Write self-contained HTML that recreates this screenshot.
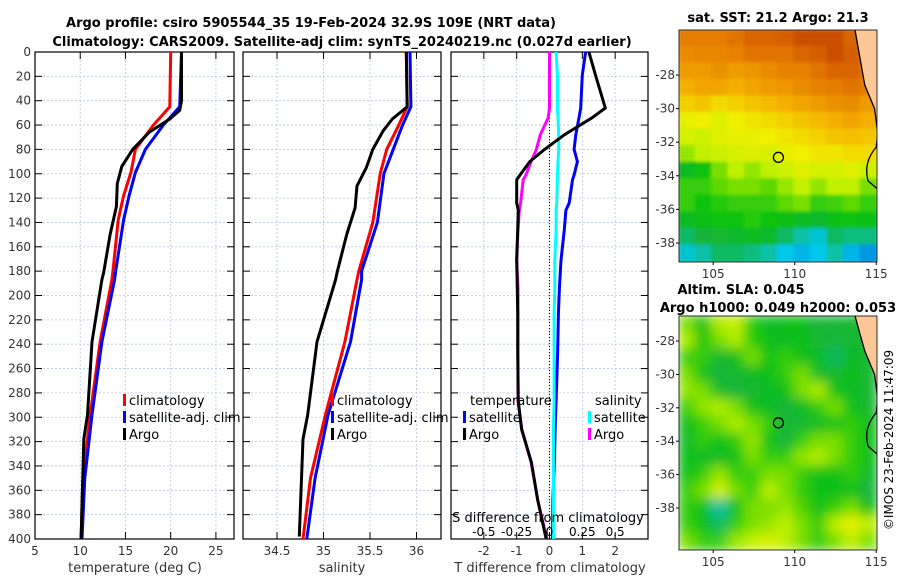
<!DOCTYPE html>
<html><head><meta charset="utf-8">
<style>
body{margin:0;background:#fff;}
svg{display:block;font-family:"DejaVu Sans","Liberation Sans",sans-serif;}
</style></head>
<body>
<svg id="fig" width="900" height="580" viewBox="0 0 900 580" xmlns="http://www.w3.org/2000/svg">
<text x="311" y="27" text-anchor="middle" font-size="13" font-weight="bold">Argo profile: csiro 5905544_35 19-Feb-2024 32.9S 109E (NRT data)</text>
<text x="342" y="46" text-anchor="middle" font-size="13" font-weight="bold">Climatology: CARS2009. Satellite-adj clim: synTS_20240219.nc (0.027d earlier)</text>
<g id="p1"></g>
<g id="p2"></g>
<g id="p3"></g>
<g id="m1"></g>
<g id="m2"></g>
<text transform="translate(893,440) rotate(-90)" text-anchor="middle" font-size="12">©IMOS 23-Feb-2024 11:47:09</text>
</svg>
<script>
// ---- profile data ----
const tDepth = [0,40,48,55,66,80,94,108,127,150,181,187,238,298,318,400];
const tArgo  = [21.2,21.2,21.0,19.9,17.6,15.8,14.6,14.1,14.0,13.3,12.6,12.4,11.3,10.8,10.4,10.1];
const cDepth = [0,45,60,80,99,118,138,181,187,238,298,350,400];
const tClim  = [20.0,19.9,18.1,16.1,15.6,14.8,14.2,13.6,13.5,12.2,11.1,10.3,10.1];
const tSat   = [21.2,21.0,19.2,17.2,16.1,15.4,14.8,13.9,13.8,12.4,11.3,10.5,10.2];
const sDepth = [0,45,55,65,80,95,110,128,150,180,187,238,298,318,398];
const sArgo  = [35.89,35.90,35.74,35.64,35.53,35.46,35.36,35.34,35.25,35.15,35.13,34.93,34.83,34.78,34.74];
const scDepth= [0,45,60,80,100,140,180,187,238,298,350,400];
const sClim  = [35.89,35.90,35.81,35.68,35.61,35.53,35.38,35.36,35.23,35.02,34.86,34.78];
const sSat   = [35.93,35.94,35.85,35.75,35.65,35.58,35.41,35.41,35.29,35.05,34.91,34.82];
const dDepth = [0,19,46,54,68,80,90,101,105,124,130,146,171,194,215,245,287,310,337,368,400];
const dTArgo = [1.2,1.4,1.7,1.3,0.45,-0.15,-0.6,-0.9,-1.0,-1.0,-0.95,-0.97,-1.0,-0.98,-0.97,-0.97,-0.95,-0.85,-0.55,-0.36,-0.1];
const dTSat  = [1.1,1.0,0.95,0.9,0.8,0.75,0.85,0.75,0.7,0.6,0.5,0.45,0.35,0.3,0.27,0.25,0.2,0.17,0.15,0.1,0.09];
const dSArgo = [0,0,0,-0.01,-0.07,-0.1,-0.14,-0.18,-0.2,-0.22,-0.23,-0.24,-0.25,-0.24,-0.24,-0.24,-0.24,-0.21,-0.14,-0.09,-0.02];
const dSSat  = [0.05,0.06,0.06,0.065,0.07,0.07,0.065,0.06,0.06,0.055,0.05,0.05,0.04,0.04,0.035,0.035,0.035,0.03,0.03,0.03,0.03];
const depthTicks = [0,20,40,60,80,100,120,140,160,180,200,220,240,260,280,300,320,340,360,380,400];
const tTicks = [5,10,15,20,25];
const sTicks = [34.5,35,35.5,36];
const dTTicks = [-2,-1,0,1,2];
const dSTicks = [-0.5,-0.25,0,0.25,0.5];
const dSLabels = ['-0.5','-0.25','0','0.25','0.5'];
// ---- map data (0..1 colour index) ----
const sstGrid = [
[.88,.88,.88,.9,.92,.92,.93,.95,.95,.95,.92,.9],
[.85,.86,.86,.87,.9,.9,.9,.92,.93,.95,.93,.9],
[.82,.82,.84,.82,.83,.85,.87,.87,.9,.92,.92,.9],
[.78,.8,.8,.78,.8,.82,.83,.85,.87,.88,.9,.88],
[.72,.74,.7,.72,.74,.76,.78,.8,.82,.84,.85,.82],
[.64,.66,.62,.66,.68,.7,.72,.74,.76,.78,.8,.78],
[.6,.58,.62,.64,.64,.66,.68,.7,.72,.74,.75,.74],
[.52,.56,.58,.6,.62,.6,.64,.66,.68,.68,.7,.7],
[.38,.42,.5,.55,.52,.55,.58,.62,.6,.6,.62,.58],
[.45,.45,.48,.5,.5,.48,.52,.56,.52,.55,.55,.5],
[.45,.42,.44,.45,.45,.45,.48,.5,.45,.46,.48,.45],
[.38,.4,.42,.42,.44,.42,.4,.38,.36,.4,.42,.4],
[.3,.33,.35,.36,.38,.36,.3,.25,.22,.3,.28,.28],
[.22,.25,.3,.3,.28,.25,.2,.18,.2,.25,.18,.15]];
const slaGrid = [
[.5,.4,.54,.56,.44,.37,.4,.4,.33,.35,.35,.35],
[.54,.42,.5,.54,.44,.4,.37,.4,.35,.33,.35,.35],
[.45,.45,.35,.4,.5,.4,.45,.4,.37,.3,.37,.35],
[.5,.4,.33,.35,.37,.4,.45,.5,.37,.35,.4,.35],
[.52,.5,.37,.33,.35,.37,.4,.5,.54,.4,.37,.35],
[.45,.52,.54,.5,.4,.37,.33,.37,.45,.5,.4,.35],
[.4,.45,.5,.54,.5,.45,.35,.35,.37,.4,.45,.4],
[.37,.45,.4,.45,.52,.4,.33,.45,.5,.5,.45,.4],
[.4,.37,.37,.4,.5,.45,.45,.52,.54,.5,.45,.4],
[.4,.45,.52,.45,.45,.5,.5,.45,.4,.4,.45,.37],
[.45,.5,.6,.5,.45,.55,.5,.45,.4,.4,.4,.33],
[.45,.4,.25,.4,.5,.5,.52,.47,.4,.45,.5,.4],
[.45,.4,.3,.45,.5,.52,.55,.5,.45,.55,.65,.55],
[.5,.45,.45,.52,.56,.6,.55,.5,.45,.5,.55,.5]];
const lonTicks=[105,110,115];
const latTicks=[-28,-30,-32,-34,-36,-38];
const argoLon=109, argoLat=-32.9;

const NS='http://www.w3.org/2000/svg';
function mk(parent,tag,attrs,text){const e=document.createElementNS(NS,tag);for(const k in attrs)e.setAttribute(k,attrs[k]);if(text!==undefined)e.textContent=text;parent.appendChild(e);return e;}
const Y0=52,Y1=539;
const yD=d=>Y0+(Y1-Y0)*d/400;
function panel(g,x0,x1,vmin,vmax,ticks,labels,showY){
  const xs=v=>x0+(x1-x0)*(v-vmin)/(vmax-vmin);
  ticks.forEach(t=>{const l=mk(g,'line',{x1:xs(t),x2:xs(t),y1:Y0,y2:Y1,stroke:'#b8c4e8','stroke-width':0.8,'stroke-dasharray':'2,2'});
    });
  depthTicks.forEach(d=>{const l=mk(g,'line',{x1:x0,x2:x1,y1:yD(d),y2:yD(d),stroke:'#b8c4e8','stroke-width':0.8,'stroke-dasharray':'2,2'});
    
    const a=mk(g,'line',{x1:x0,x2:x0+7,y1:yD(d),y2:yD(d),stroke:'#000'});
    const b=mk(g,'line',{x1:x1-7,x2:x1,y1:yD(d),y2:yD(d),stroke:'#000'});
    if(showY){const t=mk(g,'text',{x:x0-4,y:yD(d)+4,'text-anchor':'end','font-size':12,fill:'#333'},String(d));}
  });
  ticks.forEach((t,i)=>{const a=mk(g,'line',{x1:xs(t),x2:xs(t),y1:Y0,y2:Y0+7,stroke:'#000'});
    const b=mk(g,'line',{x1:xs(t),x2:xs(t),y1:Y1-7,y2:Y1,stroke:'#000'});
    if(labels){const tx=mk(g,'text',{x:xs(t),y:555,'text-anchor':'middle','font-size':12,fill:'#333'},labels[i]);}
  });
  const r=mk(g,'rect',{x:x0,y:Y0,width:x1-x0,height:Y1-Y0,fill:'none',stroke:'#000','stroke-width':1.2});
  
  return xs;
}
function line(g,xs,vals,depths,color,name){
  const p=mk(g,'polyline',{points:vals.map((v,i)=>xs(v).toFixed(1)+','+yD(depths[i]).toFixed(1)).join(' '),fill:'none',stroke:color,'stroke-width':3,'stroke-linejoin':'round'});
  
}
function legend(g,x,y,items){
  items.forEach((it,i)=>{const b=mk(g,'rect',{x:x,y:y+i*17-7,width:3,height:12,fill:it[1]});
    const t=mk(g,'text',{x:x+6,y:y+i*17+4,'font-size':13},it[0]);});
}
// panel 1
const g1=document.getElementById('p1');
const x1s=panel(g1,35,234,5,27,tTicks,tTicks.map(String),true);
line(g1,x1s,tClim,cDepth,'#f00','temp-climatology-line');
line(g1,x1s,tSat,cDepth,'#00f','temp-satellite-line');
line(g1,x1s,tArgo,tDepth,'#000','temp-argo-line');
legend(g1,123,401,[['climatology','#f00'],['satellite-adj. clim','#00f'],['Argo','#000']]);
const xl1=mk(g1,'text',{x:135,y:572,'text-anchor':'middle','font-size':13,fill:'#333'},'temperature (deg C)');
// panel 2
const g2=document.getElementById('p2');
const x2s=panel(g2,243,441,34.5-(277-243)/93,34.5+(441-277)/93,sTicks,sTicks.map(String),false);
line(g2,x2s,sClim,scDepth,'#f00','sal-climatology-line');
line(g2,x2s,sSat,scDepth,'#00f','sal-satellite-line');
line(g2,x2s,sArgo,sDepth,'#000','sal-argo-line');
legend(g2,331,401,[['climatology','#f00'],['satellite-adj. clim','#00f'],['Argo','#000']]);
const xl2=mk(g2,'text',{x:342,y:572,'text-anchor':'middle','font-size':13,fill:'#333'},'salinity');
// panel 3
const g3=document.getElementById('p3');
const x3s=panel(g3,451,648,-3,3,dTTicks,dTTicks.map(String),false);
const x3S=v=>x3s(v*4);
const zl=mk(g3,'line',{x1:x3s(0),x2:x3s(0),y1:Y0,y2:Y1,stroke:'#000','stroke-dasharray':'1,2'});
line(g3,x3s,dTSat,dDepth,'#00f','tdiff-satellite-line');
line(g3,x3S,dSSat,dDepth,'#0ff','sdiff-satellite-line');
line(g3,x3S,dSArgo,dDepth,'#f0f','sdiff-argo-line');
line(g3,x3s,dTArgo,dDepth,'#000','tdiff-argo-line');
const lt=mk(g3,'text',{x:470,y:405,'font-size':13},'temperature');
const ls=mk(g3,'text',{x:595,y:405,'font-size':13},'salinity');
legend(g3,463,418,[['satellite','#00f'],['Argo','#000']]);
legend(g3,588,418,[['satellite','#0ff'],['Argo','#f0f']]);
const st=mk(g3,'text',{x:548,y:522,'text-anchor':'middle','font-size':13},'S difference from climatology');
dSTicks.forEach((t,i)=>{const tx=mk(g3,'text',{x:x3S(t),y:536,'text-anchor':'middle','font-size':12},dSLabels[i]);});
const xl3=mk(g3,'text',{x:550,y:572,'text-anchor':'middle','font-size':13,fill:'#333'},'T difference from climatology');
// maps
function cmap(v){
  const stops=[[0,[0,0,190]],[0.2,[0,200,235]],[0.33,[20,180,60]],[0.42,[10,195,10]],[0.55,[190,240,0]],[0.66,[240,240,0]],[0.78,[245,175,0]],[0.9,[225,115,0]],[1,[180,45,0]]];
  for(let i=1;i<stops.length;i++){if(v<=stops[i][0]){const a=stops[i-1],b=stops[i],f=(v-a[0])/(b[0]-a[0]);return 'rgb('+a[1].map((c,k)=>Math.round(c+(b[1][k]-c)*f)).join(',')+')';}}
  return 'rgb(180,45,0)';
}
function map(g,id,y0,y1,grid,blur,titles){
  const X0=679,X1=877,lonMin=102.9,lonMax=115.05;
  const lx=lon=>X0+(X1-X0)*(lon-lonMin)/(lonMax-lonMin);
  const latA=-28,latB=-38,yA=y0+(y0===30?45:25),yB=y0+(y0===30?213:192);
  const ly=lat=>yA+(yB-yA)*(lat-latA)/(latB-latA);
  const defs=mk(g,'defs',{});
  const cp=mk(defs,'clipPath',{id:'clip'+id});mk(cp,'rect',{x:X0,y:y0,width:X1-X0,height:y1-y0});
  const f=mk(defs,'filter',{id:'bl'+id,x:'-10%',y:'-10%',width:'120%',height:'120%'});mk(f,'feGaussianBlur',{stdDeviation:blur});
  const cg=mk(g,'g',{'clip-path':'url(#clip'+id+')'});
  const hg=mk(cg,'g',{filter:'url(#bl'+id+')'});
  const rows=grid.length,cols=grid[0].length,cw=(X1-X0)/cols,ch=(y1-y0)/rows;
  grid.forEach((row,r)=>row.forEach((v,c)=>{const e=mk(hg,'rect',{x:X0+c*cw-1,y:y0+r*ch-1,width:cw+2,height:ch+2,fill:cmap(v)});
    }));
  const land=mk(cg,'path',{d:`M${lx(113.7)},${y0} L${lx(114.3)},${ly(-28.6)} L${lx(114.9)},${ly(-30.0)} L${lx(115.2)},${ly(-31.5)} L${X1+2},${ly(-31.5)} L${X1+2},${y0} Z`,fill:'#fdc896'});
  
  const cst=mk(cg,'path',{d:`M${lx(113.7)},${y0} L${lx(114.3)},${ly(-28.6)} L${lx(114.9)},${ly(-30.0)} L${lx(115.1)},${ly(-31.5)} L${lx(115.0)},${ly(-32.3)} Q${lx(114.2)},${ly(-33.2)} ${lx(114.5)},${ly(-34.3)} L${lx(115.1)},${ly(-34.8)}`,fill:'none',stroke:'#000','stroke-width':1.3});
  
  const mk1=mk(g,'circle',{cx:lx(argoLon),cy:ly(argoLat),r:5,fill:'none',stroke:'#000','stroke-width':1.3});
  
  const fr=mk(g,'rect',{x:X0,y:y0,width:X1-X0,height:y1-y0,fill:'none',stroke:'#000','stroke-width':0.8});
  
  latTicks.forEach(t=>{const tk=mk(g,'line',{x1:X0-3,x2:X0,y1:ly(t),y2:ly(t),stroke:'#000'});
    const tt=mk(g,'text',{x:X0-4,y:ly(t)+4,'text-anchor':'end','font-size':12,fill:'#333'},String(t));});
  lonTicks.forEach(t=>{const tk=mk(g,'line',{x1:lx(t),x2:lx(t),y1:y1,y2:y1+3,stroke:'#000'});
    const tt=mk(g,'text',{x:lx(t),y:y1+16,'text-anchor':'middle','font-size':12,fill:'#333'},String(t));});
  titles.forEach((s,i)=>{const tt=mk(g,'text',{x:s[1],y:s[2],'text-anchor':'middle','font-size':13,'font-weight':'bold'},s[0]);});
}
map(document.getElementById('m1'),'a',30,262,sstGrid,1.5,[['sat. SST: 21.2 Argo: 21.3',778,22]]);
map(document.getElementById('m2'),'b',316,550,slaGrid,6,[['Altim. SLA: 0.045',741,294],['Argo h1000: 0.049 h2000: 0.053',778,312]]);
</script>
</body></html>
